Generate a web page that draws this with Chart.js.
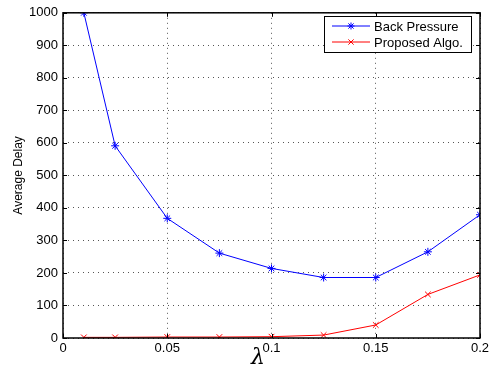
<!DOCTYPE html>
<html>
<head>
<meta charset="utf-8">
<script src="https://cdn.jsdelivr.net/npm/chart.js@4.4.1/dist/chart.umd.min.js"></script>
<style>
  html,body{margin:0;padding:0;background:#fff;}
  #wrap{width:493px;height:374px;}
</style>
</head>
<body>
<div id="wrap"><canvas id="c" width="493" height="374"></canvas></div>
<script>
// data
const lambdas      = [0.01, 0.025, 0.05, 0.075, 0.1, 0.125, 0.15, 0.175, 0.2];
const backPressure = [1000, 591, 368, 261, 214, 186, 186, 265, 379];
const proposed     = [2, 2, 3, 3, 4, 9, 40, 134, 194];
const xTicks = [0, 0.05, 0.1, 0.15, 0.2];
const yTicks = [0, 100, 200, 300, 400, 500, 600, 700, 800, 900, 1000];

const FONT = 'Liberation Sans, Arial, Helvetica, sans-serif';

const pts = ys => lambdas.map((x,i)=>({x, y:ys[i]}));

// box frame, inward ticks, legend and lambda label
const framePlugin = {
  id:'frame',
  afterDraw(chart){
    const {ctx, chartArea:a, scales} = chart;
    ctx.save();
    ctx.strokeStyle = '#000'; ctx.lineWidth = 1.5;
    ctx.strokeRect(a.left, a.top, a.right-a.left, a.bottom-a.top);
    ctx.lineWidth = 1;
    ctx.beginPath();
    xTicks.forEach(v=>{
      const px = Math.round(scales.x.getPixelForValue(v))+0.5;
      ctx.moveTo(px, a.bottom); ctx.lineTo(px, a.bottom-4);
      ctx.moveTo(px, a.top); ctx.lineTo(px, a.top+4);
    });
    yTicks.forEach(v=>{
      const py = Math.round(scales.y.getPixelForValue(v))+0.5;
      ctx.moveTo(a.left, py); ctx.lineTo(a.left+4, py);
      ctx.moveTo(a.right, py); ctx.lineTo(a.right-4, py);
    });
    ctx.stroke();

    // legend
    const lx = 324, ly = 16, lw = 147, lh = 36;
    ctx.fillStyle = '#fff';
    ctx.fillRect(lx, ly, lw, lh);
    ctx.strokeStyle = '#000'; ctx.lineWidth = 1;
    ctx.strokeRect(lx+0.5, ly+0.5, lw, lh);
    chart.data.datasets.forEach((ds,i)=>{
      const y = ly + 10 + i*16;
      ctx.strokeStyle = ds.borderColor; ctx.lineWidth = 1;
      ctx.beginPath(); ctx.moveTo(332, y); ctx.lineTo(370, y); ctx.stroke();
      const cx = 351, r = 3.5;
      ctx.beginPath();
      if(ds.pointStyle==='star'){
        ctx.moveTo(cx-r,y); ctx.lineTo(cx+r,y);
        ctx.moveTo(cx,y-r); ctx.lineTo(cx,y+r);
      }
      ctx.moveTo(cx-r*0.75,y-r*0.75); ctx.lineTo(cx+r*0.75,y+r*0.75);
      ctx.moveTo(cx-r*0.75,y+r*0.75); ctx.lineTo(cx+r*0.75,y-r*0.75);
      ctx.stroke();
      ctx.fillStyle = '#000';
      ctx.font = '13px ' + FONT;
      ctx.textBaseline = 'middle'; ctx.textAlign = 'left';
      ctx.fillText(ds.label, 374, y+1);
    });

    // x label
    ctx.fillStyle = '#000';
    ctx.font = 'italic 22px DejaVu Serif, serif';
    ctx.textAlign = 'center'; ctx.textBaseline = 'middle';
    ctx.fillText('\u03bb', 258, 358);
    ctx.restore();
  }
};

new Chart(document.getElementById('c'), {
  type:'line',
  data:{
    datasets:[
      {label:'Back Pressure', data:pts(backPressure), borderColor:'#0000ff', backgroundColor:'#0000ff',
       borderWidth:1, pointStyle:'star', pointRadius:4, pointBorderWidth:1, pointBorderColor:'#0000ff'},
      {label:'Proposed Algo.', data:pts(proposed), borderColor:'#ff0000', backgroundColor:'#ff0000',
       borderWidth:1, pointStyle:'crossRot', pointRadius:4, pointBorderWidth:1, pointBorderColor:'#ff0000'}
    ]
  },
  options:{
    responsive:false, animation:false, devicePixelRatio:1,
    layout:{padding:{left:0, right:13, top:8, bottom:0}},
    plugins:{legend:{display:false}, tooltip:{enabled:false}},
    elements:{line:{tension:0}},
    scales:{
      x:{
        type:'linear', min:0, max:0.2,
        afterBuildTicks: s => { s.ticks = xTicks.map(v=>({value:v})); },
        afterFit: s => { s.height = 36; },
        ticks:{color:'#000', font:{family:FONT, size:13}, padding:3,
               callback:v=>String(v)},
        grid:{color:'#555', drawTicks:false, lineWidth:1},
        border:{display:false, dash:[1,4]}
      },
      y:{
        min:0, max:1000,
        afterBuildTicks: s => { s.ticks = yTicks.map(v=>({value:v})); },
        afterFit: s => { s.width = 63; },
        ticks:{color:'#000', font:{family:FONT, size:13}, padding:5,
               callback:v=>String(v)},
        grid:{color:'#555', drawTicks:false, lineWidth:1},
        border:{display:false, dash:[1,4]},
        title:{display:true, text:'Average Delay', color:'#000', font:{family:FONT, size:12}, padding:{top:11,bottom:0}}
      }
    }
  },
  plugins:[framePlugin]
});
</script>
</body>
</html>
